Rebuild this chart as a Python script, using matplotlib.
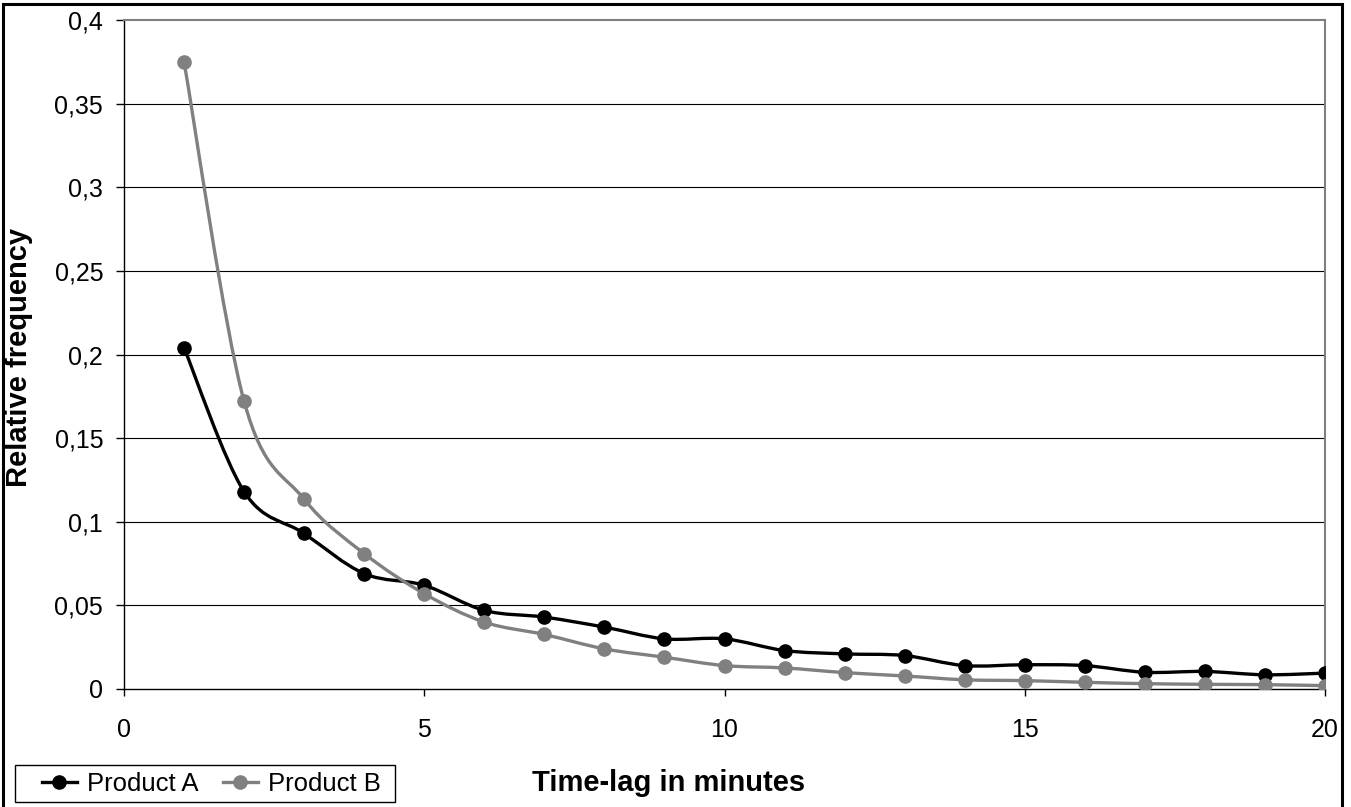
import numpy as np
import matplotlib
matplotlib.use("Agg")
import matplotlib.pyplot as plt
from matplotlib.path import Path
from matplotlib.patches import PathPatch, Rectangle
from matplotlib.lines import Line2D

plt.rcParams['font.family'] = ['Liberation Sans', 'DejaVu Sans']

# data
lag = [1, 2, 3, 4, 5, 6, 7, 8, 9, 10, 11, 12, 13, 14, 15, 16, 17, 18, 19, 20]
product_a = [0.204, 0.118, 0.093, 0.069, 0.062, 0.047, 0.043, 0.037, 0.030, 0.030,
             0.023, 0.021, 0.020, 0.014, 0.0145, 0.014, 0.010, 0.0105, 0.0085, 0.0095]
product_b = [0.375, 0.172, 0.1135, 0.081, 0.057, 0.040, 0.0326, 0.024, 0.019, 0.014,
             0.0126, 0.0098, 0.0078, 0.0055, 0.005, 0.004, 0.0032, 0.0028, 0.0026, 0.002]
series_names = ["Product A", "Product B"]
series_colors = ["#000000", "#808080"]
xticks = [0, 5, 10, 15, 20]
yticks = [0, 0.05, 0.1, 0.15, 0.2, 0.25, 0.3, 0.35, 0.4]
ytick_labels = ["0", "0,05", "0,1", "0,15", "0,2", "0,25", "0,3", "0,35", "0,4"]


def smooth_path(xs, ys):
    # Excel-like smoothed line: cubic bezier through each point (catmull-rom style)
    p = np.column_stack([xs, ys]).astype(float)
    n = len(p)
    verts = [p[0]]
    codes = [Path.MOVETO]
    for i in range(n - 1):
        p0 = p[max(i - 1, 0)]
        p1 = p[i]
        p2 = p[i + 1]
        p3 = p[min(i + 2, n - 1)]
        c1 = p1 + (p2 - p0) / 6.0
        c2 = p2 - (p3 - p1) / 6.0
        verts += [c1, c2, p2]
        codes += [Path.CURVE4] * 3
    return Path(verts, codes)


W, H = 1351, 807
fig = plt.figure(figsize=(W / 100, H / 100), dpi=100)
ax = fig.add_axes([124 / W, (H - 689) / H, (1325 - 124) / W, (689 - 20) / H])

for vals, col in zip([product_a, product_b], series_colors):
    ax.add_patch(PathPatch(smooth_path(lag, vals), facecolor='none', edgecolor=col,
                           lw=2.4, zorder=3, capstyle='round', joinstyle='round'))
    ax.plot(lag, vals, ls='none', marker='o', ms=9.5, color=col, mec=col, zorder=4)

ax.set_xlim(0, 20)
ax.set_ylim(0, 0.4)
ax.set_xticks(xticks)
ax.set_yticks(yticks)
ax.set_yticklabels(ytick_labels)

for y in yticks[1:-1]:
    ax.axhline(y, color='black', lw=0.8, zorder=1)

ax.spines['left'].set_color('black')
ax.spines['bottom'].set_color('black')
ax.spines['left'].set_linewidth(1.0)
ax.spines['bottom'].set_linewidth(1.0)
ax.spines['top'].set_color('#808080')
ax.spines['right'].set_color('#808080')
ax.spines['top'].set_linewidth(1.5)
ax.spines['right'].set_linewidth(1.5)

ax.tick_params(axis='x', direction='out', length=5, width=1, pad=16, labelsize=18)
ax.tick_params(axis='y', direction='out', length=6, width=1, pad=9, labelsize=18)

fig.text(669 / W, 1 - 783 / H, "Time-lag in minutes", fontsize=21, fontweight='bold',
         ha='center', va='center')
fig.text(19 / W, 1 - 357 / H, "Relative frequency", fontsize=21, fontweight='bold',
         ha='center', va='center', rotation=90)

# legend: entries without frame, box drawn separately
handles = [Line2D([], [], color=c, lw=2.4, marker='o', ms=9.5) for c in series_colors]
leg = fig.legend(handles, series_names, loc='center left', ncol=2,
                 bbox_to_anchor=(42 / W, 1 - 784 / H), fontsize=18.5,
                 frameon=False, borderpad=0, borderaxespad=0,
                 handlelength=1.35, handletextpad=0.4, columnspacing=0.95)
fig.patches.append(Rectangle((15 / W, 1 - 802 / H), (395 - 15) / W, (802 - 765) / H,
                             transform=fig.transFigure, fill=False,
                             edgecolor='black', lw=1.0))

# outer chart border
fig.patches.append(Rectangle((3 / W, -0.02), (1342 - 3) / W, 1.02 - 4 / H,
                             transform=fig.transFigure, fill=False,
                             edgecolor='black', lw=2.2))

fig.savefig("out.png", dpi=100)
